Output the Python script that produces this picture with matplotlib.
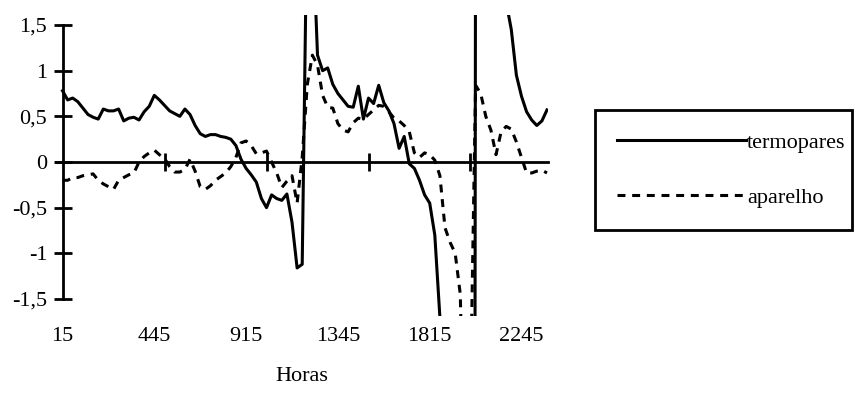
import numpy as np
import matplotlib
matplotlib.use("Agg")
import matplotlib.pyplot as plt

# horarios de 15 em 15 minutos (0:15 ... 24:00), escritos como HHMM sem zeros
horas = [str(h * 100 + m) for h in range(0, 25) for m in (0, 15, 30, 45)][1:97]

termopares = [
    0.78, 0.68, 0.70, 0.66, 0.59, 0.52, 0.49, 0.47, 0.58, 0.56,
    0.56, 0.58, 0.45, 0.48, 0.49, 0.46, 0.55, 0.61, 0.73, 0.68,
    0.62, 0.56, 0.53, 0.50, 0.58, 0.52, 0.40, 0.31, 0.28, 0.30,
    0.30, 0.28, 0.27, 0.25, 0.18, 0.03, -0.07, -0.14, -0.22, -0.40,
    -0.50, -0.36, -0.40, -0.42, -0.35, -0.66, -1.16, -1.12, 3.0, 2.6,
    1.17, 1.00, 1.03, 0.85, 0.75, 0.68, 0.61, 0.60, 0.83, 0.47,
    0.70, 0.64, 0.84, 0.65, 0.56, 0.42, 0.15, 0.28, -0.02, -0.07,
    -0.20, -0.36, -0.45, -0.80, -1.70, -3.0, -6.0, -10.0, -18.0, -28.0,
    -40.0, 3.0, 5.0, 4.2, 3.4, 2.7, 2.2, 1.75, 1.45, 0.95,
    0.72, 0.55, 0.46, 0.40, 0.45, 0.57,
]

aparelho = [
    -0.20, -0.20, -0.17, -0.17, -0.15, -0.14, -0.13, -0.20, -0.24, -0.27,
    -0.30, -0.20, -0.17, -0.14, -0.12, 0.00, 0.06, 0.10, 0.13, 0.08,
    0.04, -0.05, -0.11, -0.11, -0.08, 0.03, -0.10, -0.27, -0.30, -0.26,
    -0.20, -0.16, -0.12, -0.05, 0.05, 0.21, 0.23, 0.18, 0.09, 0.10,
    0.12, 0.00, -0.12, -0.28, -0.21, -0.15, -0.45, 0.05, 0.85, 1.17,
    1.06, 0.73, 0.60, 0.59, 0.42, 0.35, 0.33, 0.43, 0.48, 0.47,
    0.52, 0.57, 0.62, 0.61, 0.55, 0.48, 0.45, 0.40, 0.33, 0.10,
    0.05, 0.10, 0.08, 0.02, -0.15, -0.72, -0.88, -1.00, -1.45, -4.0,
    -2.5, 0.84, 0.75, 0.50, 0.35, 0.08, 0.33, 0.39, 0.36, 0.22,
    0.05, -0.12, -0.12, -0.10, -0.09, -0.12,
]

rotulos_x = ["15", "445", "915", "1345", "1815", "2245"]
yticks = [-1.5, -1, -0.5, 0, 0.5, 1, 1.5]
rotulos_y = ["-1,5", "-1", "-0,5", "0", "0,5", "1", "1,5"]

plt.rcParams["font.family"] = ["Liberation Serif", "DejaVu Serif"]
plt.rcParams["font.size"] = 16

x = np.arange(len(horas))

fig = plt.figure(figsize=(8.56, 3.94), dpi=100)
ax = fig.add_axes([0.0659, 0.198, 0.5743, 0.764])

l1, = ax.plot(x, termopares, color="black", lw=2.2, solid_joinstyle="round")
l2, = ax.plot(x, aparelho, color="black", lw=2.2, linestyle=(0, (2.6, 2.2)))

ax.set_xlim(-1.2, 95.2)
ax.set_ylim(-1.686, 1.61)

# eixos cruzando no zero
ax.spines["top"].set_visible(False)
ax.spines["right"].set_visible(False)
ax.spines["left"].set_position(("data", 0))
ax.spines["left"].set_bounds(-1.5, 1.5)
ax.spines["bottom"].set_position(("data", 0))
for s in ("left", "bottom"):
    ax.spines[s].set_linewidth(2)

ax.set_yticks(yticks, labels=rotulos_y)
ax.tick_params(axis="y", direction="inout", length=13, width=2, pad=4.5)
ax.set_xticks(range(20, 96, 20))
ax.tick_params(axis="x", direction="inout", length=13, width=2, labelbottom=False)

# rotulos das horas embaixo do grafico
sec = ax.secondary_xaxis("bottom")
sec.set_xticks([horas.index(r) for r in rotulos_x], labels=rotulos_x)
sec.tick_params(length=0, pad=8)
sec.spines["bottom"].set_visible(False)
sec.set_xlabel("Horas", labelpad=15)

leg = ax.legend([l1, l2], ["termopares", "aparelho"], loc="upper left",
                bbox_to_anchor=(595 / 856, 1 - 228 / 394, 257 / 856, 118 / 394),
                bbox_transform=fig.transFigure, mode="expand",
                frameon=True, fancybox=False, edgecolor="black", framealpha=1,
                handlelength=5.8, handletextpad=0.05, borderpad=1.0,
                labelspacing=1.55, borderaxespad=0)
leg.get_frame().set_linewidth(2)

fig.savefig("out.png", dpi=100)
